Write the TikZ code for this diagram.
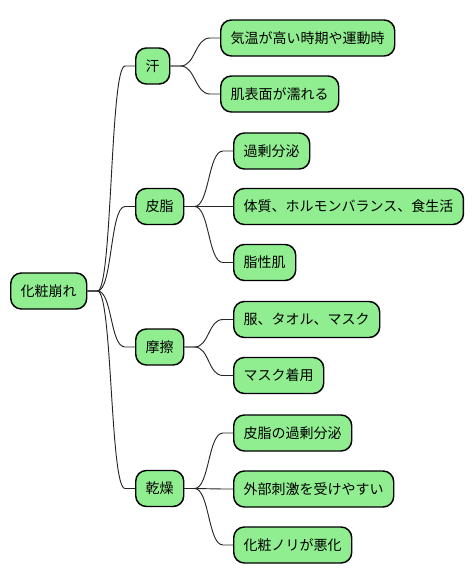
\documentclass[tikz,border=0pt]{standalone}
\usepackage{fontspec}
\setmainfont{Noto Sans CJK JP}
\definecolor{leafgreen}{HTML}{90EE90}
\begin{document}
\begin{tikzpicture}
[
    x=0.75pt, y=-0.75pt,
    topic/.style={draw, line width=1.1pt, rounded corners=8pt, fill=leafgreen,
        anchor=west, minimum height=27pt, inner xsep=7.5pt, inner ysep=0pt,
        font=\fontsize{10.5}{12}\selectfont},
    branch/.style={draw=black!85, line width=0.7pt}
]
    \useasboundingbox (0,0) rectangle (474,583);

    \node [topic] (root) at (10,291) {化粧崩れ};

    \begin{scope}
        \node [topic] (sweat) at (135,66) {汗};
        \node [topic] (sweat1) at (220,38) {気温が高い時期や運動時};
        \node [topic] (sweat2) at (220,94) {肌表面が濡れる};
    \end{scope}

    \begin{scope}
        \node [topic] (sebum) at (135,206.5) {皮脂};
        \node [topic] (sebum1) at (233,151) {過剰分泌};
        \node [topic] (sebum2) at (233,206.5) {体質、ホルモンバランス、食生活};
        \node [topic] (sebum3) at (233,262.5) {脂性肌};
    \end{scope}

    \begin{scope}
        \node [topic] (rub) at (135,347) {摩擦};
        \node [topic] (rub1) at (233,319.5) {服、タオル、マスク};
        \node [topic] (rub2) at (233,375.5) {マスク着用};
    \end{scope}

    \begin{scope}
        \node [topic] (dry) at (135,488.5) {乾燥};
        \node [topic] (dry1) at (233,433) {皮脂の過剰分泌};
        \node [topic] (dry2) at (233,489) {外部刺激を受けやすい};
        \node [topic] (dry3) at (233,545) {化粧ノリが悪化};
    \end{scope}

    \foreach \from/\to in {root/sweat, root/sebum, root/rub, root/dry,
        sweat/sweat1, sweat/sweat2, sebum/sebum1, sebum/sebum2, sebum/sebum3,
        rub/rub1, rub/rub2, dry/dry1, dry/dry2, dry/dry3}
        \draw [branch] (\from.east) -- ++(10,0)
            to [out=0, in=180, distance=11.25pt] ([xshift=-7.5pt]\to.west)
            -- (\to.west);
\end{tikzpicture}
\end{document}
